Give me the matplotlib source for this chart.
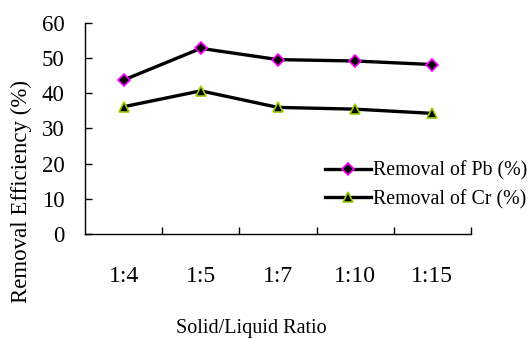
import matplotlib
matplotlib.use("Agg")
import matplotlib.pyplot as plt
import numpy as np

categories = ["1:4", "1:5", "1:7", "1:10", "1:15"]
pb_removal = [43.8, 52.8, 49.6, 49.2, 48.2]
cr_removal = [36.2, 40.7, 36.0, 35.5, 34.3]
y_ticks = [0, 10, 20, 30, 40, 50, 60]

plt.rcParams["font.family"] = ["Liberation Serif", "DejaVu Serif"]

fig = plt.figure(figsize=(5.32, 3.39), dpi=100)
ax = fig.add_axes([0.16, 0.31, 0.725, 0.622])

x = np.arange(len(categories))
l1, = ax.plot(x, pb_removal, color="black", lw=2.4, marker="D", ms=6,
              mfc="black", mec="#ff00ff", mew=1.2, label="Removal of Pb (%)")
l2, = ax.plot(x, cr_removal, color="black", lw=2.4, marker="^", ms=7.5,
              mfc="black", mec="#99cc00", mew=1.2, label="Removal of Cr (%)")

ax.set_xlim(-0.5, len(categories) - 0.5)
ax.set_ylim(0, 60)
ax.set_yticks(y_ticks)
ax.set_xticks(x)
ax.set_xticklabels(categories)
ax.set_xticks(np.arange(len(categories)) + 0.5, minor=True)
ax.tick_params(axis="x", which="major", length=0, pad=23, labelsize=17)
ax.tick_params(axis="x", which="minor", direction="in", length=5, width=1)
ax.tick_params(axis="y", direction="in", length=5, width=1, labelsize=16.5, pad=15)

for s in ["top", "right"]:
    ax.spines[s].set_visible(False)
for s in ["left", "bottom"]:
    ax.spines[s].set_linewidth(1)

fig.text(0.041, 0.436, "Removal Efficiency (%)", rotation=90, ha="center",
         va="center", fontsize=16.5)
fig.text(0.472, 0.032, "Solid/Liquid Ratio", ha="center", va="center", fontsize=14.5)

fig.legend(handles=[l1, l2], loc="center left", bbox_to_anchor=(0.611, 0.454),
           frameon=False, fontsize=14.3, handlelength=2.3, handletextpad=0.1,
           labelspacing=0.45, borderpad=0, borderaxespad=0)

fig.savefig("out.png", dpi=100)
